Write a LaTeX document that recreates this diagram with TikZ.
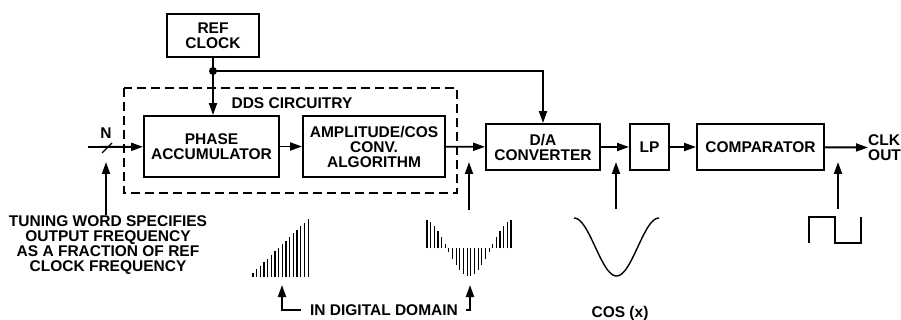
\documentclass[tikz,border=0pt]{standalone}
\usepackage{fontspec}
\setmainfont{Liberation Sans}
\usetikzlibrary{arrows.meta}

\begin{document}
\begin{tikzpicture}[x=1pt,y=-1pt,
  blk/.style={rectangle,draw,line width=1.9pt,inner sep=0pt,align=center},
  arr/.style={line width=1.9pt,-{Triangle[length=12pt,width=8pt]}},
  wave/.style={line width=1.4pt},
  bar/.style={line width=1.1pt},
  lbl/.style={align=center,inner sep=0pt},
  font=\fontsize{15.5}{15}\selectfont\bfseries]
\useasboundingbox (0,0) rectangle (901,320);

 \node at (213,35.5) [blk,minimum width=92,minimum height=43] (ref) {REF\\CLOCK};
 \node at (211.5,146.5) [blk,minimum width=135,minimum height=61] (acc) {PHASE\\ACCUMULATOR};
 \node at (374,146.5) [blk,minimum width=142,minimum height=61] (amp) {AMPLITUDE/COS\\CONV.\\ALGORITHM};
 \node at (543,147) [blk,minimum width=114,minimum height=46] (dac) {D/A\\CONVERTER};
 \node at (649.5,147) [blk,minimum width=39,minimum height=46] (lp) {LP};
 \node at (760.5,147) [blk,minimum width=127,minimum height=46] (cmp) {COMPARATOR};
 \node at (868,147.5) [lbl,anchor=west,align=left] (out) {CLK\\OUT};

 \draw[line width=1.9pt,dash pattern=on 9pt off 5pt] (124,88) rectangle (457,193);
 \node at (292,103) [lbl] (dds) {DDS CIRCUITRY};

 \node at (106,133) [lbl] (n) {N};
 \node at (108,245) [lbl] (tw) {TUNING WORD SPECIFIES\\OUTPUT FREQUENCY\\AS A FRACTION OF REF\\CLOCK FREQUENCY};
 \node at (384,310) [lbl] (dom) {IN DIGITAL DOMAIN};
 \node at (620,313) [lbl] (cosx) {COS (x)};

 \coordinate (clk) at (213,71);
 \coordinate (nin) at (88,147);
 \coordinate (twtip) at (106,162);
 \coordinate (dabase) at (469,210);
 \coordinate (datip) at (469,162);
 \coordinate (lpbase) at (616,209);
 \coordinate (lptip) at (616,162);
 \coordinate (cmpbase) at (838,209);
 \coordinate (cmptip) at (838,162);
 \coordinate (rampup) at (282,285);
 \coordinate (cosup) at (470,285);

 \draw[arr] (ref.south) -- (ref.south |- acc.north);
 \fill (clk) circle (4);
 \draw[arr] (clk) -| (dac);
 \draw[arr] (nin) -- (acc);
 \draw[line width=1.3pt] (102,153) -- (112,143);
 \draw[arr] (acc) -- (amp);
 \draw[arr] (amp) -- (dac);
 \draw[arr] (dac) -- (lp);
 \draw[arr] (lp) -- (cmp);
 \draw[arr] (cmp) -- (out.west);

 \draw[arr] (twtip |- tw.north) -- (twtip);
 \draw[arr] (dabase) -- (datip);
 \draw[arr] (lpbase) -- (lptip);
 \draw[arr] (cmpbase) -- (cmptip);
 \draw[arr] ([xshift=-9pt]dom.west) -| (rampup);
 \draw[arr] ([xshift=8pt]dom.east) -| (cosup);

 \foreach \i in {0,...,15}
   \draw[bar] ({253+3.67*\i},277) -- ++(0,{-4-3.6*\i});
 \foreach \i in {0,...,23}
   \draw[bar] ({427+3.65*\i},248) -- ++(0,{-28*cos(15*(\i+0.5))});
 \draw[wave] plot[domain=0:360,samples=61] ({574+0.2361*\x},{247-29*cos(\x)});
 \draw[wave] (809,243) |- (835,217) |- (861,243) -- (861,217);
\end{tikzpicture}
\end{document}
